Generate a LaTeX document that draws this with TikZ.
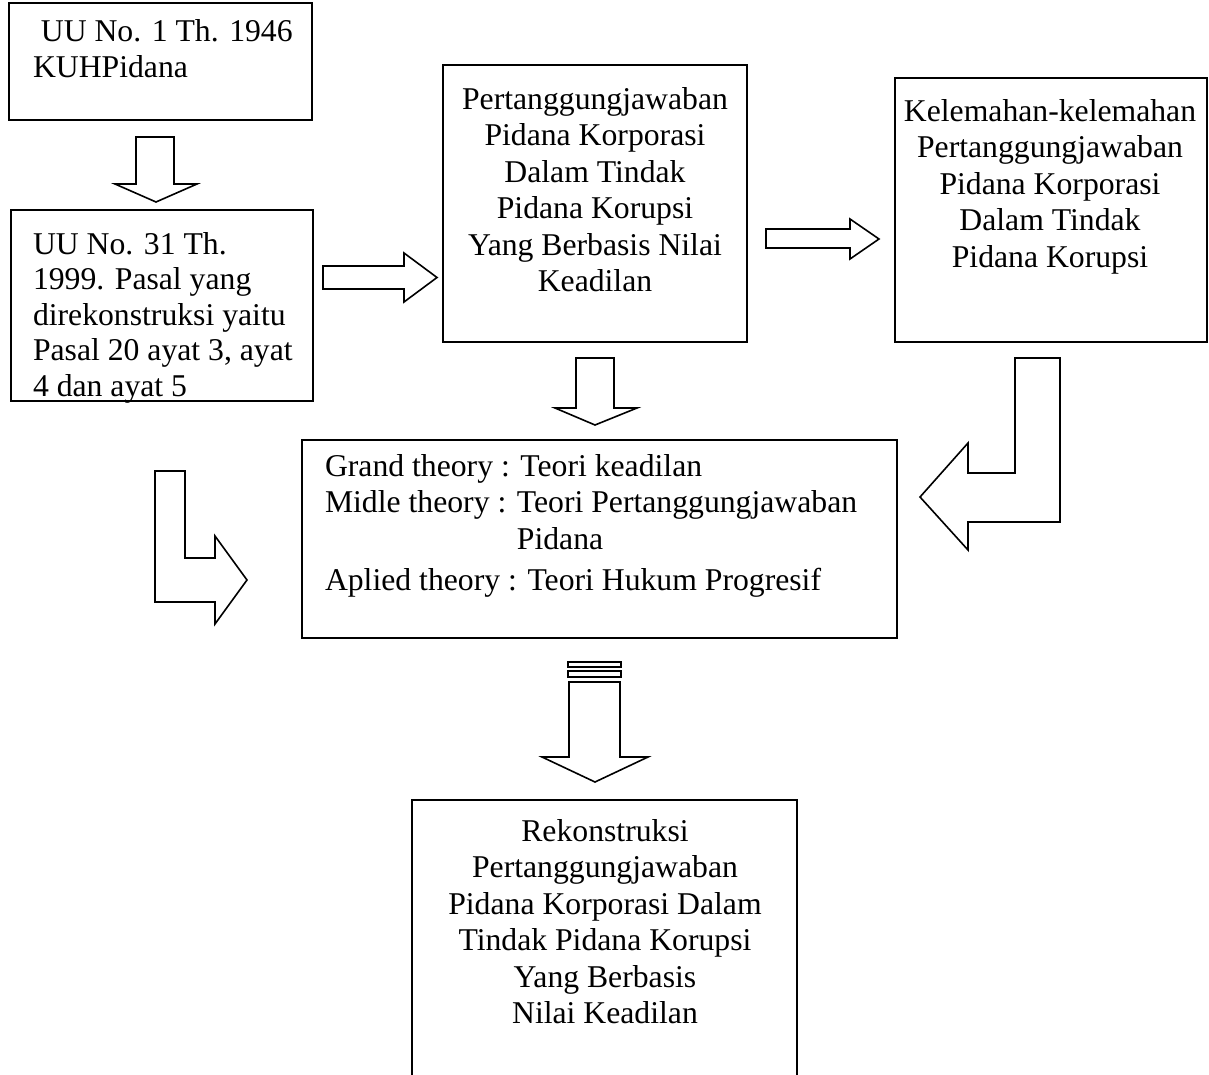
\documentclass[tikz,border=0pt]{standalone}
\usepackage{fontspec}
\setmainfont{Liberation Serif}
\begin{document}
\begin{tikzpicture}[x=1pt,y=-1pt,
  box/.style={draw, line width=1.7pt, inner sep=0pt, outer sep=0pt, anchor=north west},
  txt/.style={inner sep=0pt, outer sep=0pt, font=\fontsize{31.7}{36.5}\selectfont},
  barrow/.style={draw, line width=1.6pt, line join=miter, fill=white}]
\useasboundingbox (0,0) rectangle (1209,1075);
\clip (0,0) rectangle (1209,1075);
% boxes
\node[box, minimum width=303pt, minimum height=117pt] (b1) at (9,3) {};
\node[box, minimum width=302pt, minimum height=191pt] (b2) at (11,210) {};
\node[box, minimum width=304pt, minimum height=277pt] (b3) at (443,65) {};
\node[box, minimum width=312pt, minimum height=264pt] (b4) at (895,78) {};
\node[box, minimum width=595pt, minimum height=198pt] (b5) at (302,440) {};
\node[box, minimum width=385pt, minimum height=300pt] (b6) at (412,800) {};
% texts
\node[txt, anchor=north west, align=left] (t1) at (33,19.3)
  {\hspace*{7.9pt}UU No. 1 Th. 1946\\KUHPidana};
\node[txt, anchor=north west, align=left, font=\fontsize{31.7}{35.5}\selectfont] (t2) at (33,232.3)
  {UU No. 31 Th.\\1999. Pasal yang\\direkonstruksi yaitu\\Pasal 20 ayat 3, ayat\\4 dan ayat 5};
\node[txt, anchor=north, align=center] (t3) at (595,87.3)
  {Pertanggungjawaban\\Pidana Korporasi\\Dalam Tindak\\Pidana Korupsi\\Yang Berbasis Nilai\\Keadilan};
\node[txt, anchor=north, align=center] (t4) at (1050,99.3)
  {Kelemahan-kelemahan\\Pertanggungjawaban\\Pidana Korporasi\\Dalam Tindak\\Pidana Korupsi};
\node[txt, anchor=north west, align=left] (t5) at (325,454.3)
  {Grand theory : Teori keadilan\\Midle theory : Teori Pertanggungjawaban\\\hphantom{Midle theory : }Pidana\\[5pt]Aplied theory : Teori Hukum Progresif};
\node[txt, anchor=north, align=center] (t6) at (605,819.3)
  {Rekonstruksi\\Pertanggungjawaban\\Pidana Korporasi Dalam\\Tindak Pidana Korupsi\\Yang Berbasis\\Nilai Keadilan};
% block arrows
\draw[barrow] (136,137) -- (174,137) -- (174,184) -- (197,184) -- (156,202) -- (115,184) -- (136,184) -- cycle;
\draw[barrow] (323,266) -- (404,266) -- (404,253) -- (437,277.5) -- (404,302) -- (404,289) -- (323,289) -- cycle;
\draw[barrow] (766,229) -- (850,229) -- (850,219) -- (879,239) -- (850,259) -- (850,248) -- (766,248) -- cycle;
\draw[barrow] (576,358) -- (614,358) -- (614,408) -- (637,408) -- (595,425) -- (555,408) -- (576,408) -- cycle;
\draw[barrow] (155,471) -- (185,471) -- (185,558) -- (215,558) -- (215,536) -- (247,580) -- (215,624) -- (215,602) -- (155,602) -- cycle;
\draw[barrow] (1015,358) -- (1060,358) -- (1060,522) -- (968,522) -- (968,550) -- (920,497) -- (968,443) -- (968,473) -- (1015,473) -- cycle;
\draw[barrow] (568,662) rectangle (621,667);
\draw[barrow] (568,671) rectangle (621,677);
\draw[barrow] (569,682) -- (620,682) -- (620,757) -- (648,757) -- (595,782) -- (542,757) -- (569,757) -- cycle;
\end{tikzpicture}
\end{document}
